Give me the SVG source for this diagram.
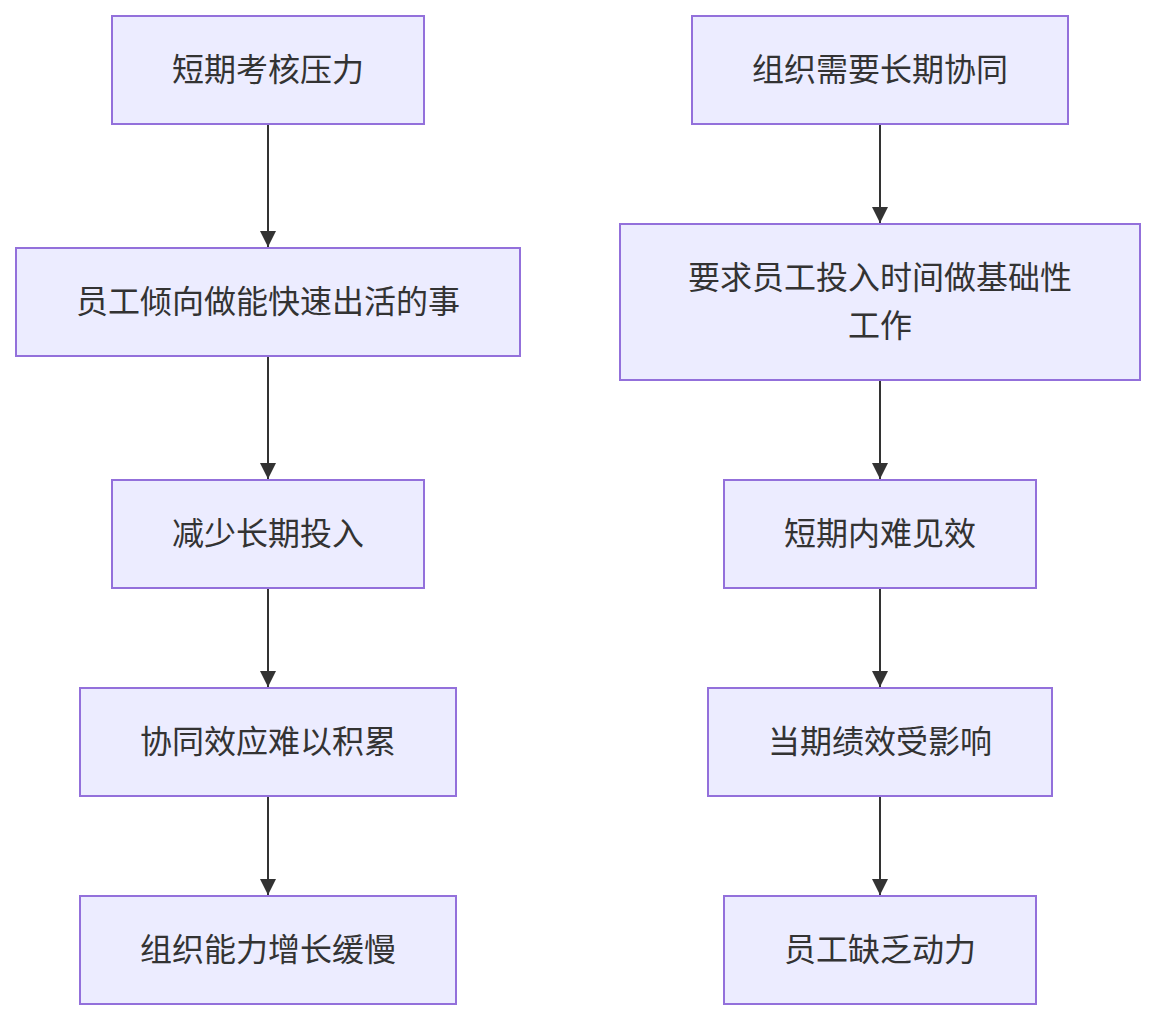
<svg xmlns="http://www.w3.org/2000/svg" width="1156" height="1020" viewBox="0 0 1156 1020">
<style>
.node rect{fill:#ECECFF;stroke:#9370DB;stroke-width:2}
.node text{font-family:"Liberation Sans","Noto Sans CJK SC",sans-serif;font-size:32px;fill:#333333;text-anchor:middle;dominant-baseline:central}
.edge{stroke:#333333;stroke-width:2;fill:none}
</style>
<defs>
<marker id="ah" viewBox="0 0 16 16" refX="16" refY="8" markerWidth="16" markerHeight="16" markerUnits="userSpaceOnUse" orient="auto">
<path d="M0,0 L16,8 L0,16 z" fill="#333333"/>
</marker>
</defs>
<rect width="1156" height="1020" fill="#ffffff"/>
<g id="edges">
<path class="edge" d="M268,125 V247" marker-end="url(#ah)"/>
<path class="edge" d="M268,357 V479" marker-end="url(#ah)"/>
<path class="edge" d="M268,589 V687" marker-end="url(#ah)"/>
<path class="edge" d="M268,797 V895" marker-end="url(#ah)"/>
<path class="edge" d="M880,125 V223" marker-end="url(#ah)"/>
<path class="edge" d="M880,381 V479" marker-end="url(#ah)"/>
<path class="edge" d="M880,589 V687" marker-end="url(#ah)"/>
<path class="edge" d="M880,797 V895" marker-end="url(#ah)"/>
</g>
<g id="L1" class="node"><rect x="112" y="16" width="312" height="108"/><text x="268" y="70">短期考核压力</text></g>
<g id="L2" class="node"><rect x="16" y="248" width="504" height="108"/><text x="268" y="302">员工倾向做能快速出活的事</text></g>
<g id="L3" class="node"><rect x="112" y="480" width="312" height="108"/><text x="268" y="534">减少长期投入</text></g>
<g id="L4" class="node"><rect x="80" y="688" width="376" height="108"/><text x="268" y="742">协同效应难以积累</text></g>
<g id="L5" class="node"><rect x="80" y="896" width="376" height="108"/><text x="268" y="950">组织能力增长缓慢</text></g>
<g id="R1" class="node"><rect x="692" y="16" width="376" height="108"/><text x="880" y="70">组织需要长期协同</text></g>
<g id="R2" class="node"><rect x="620" y="224" width="520" height="156"/><text x="880" y="278">要求员工投入时间做基础性</text><text x="880" y="326">工作</text></g>
<g id="R3" class="node"><rect x="724" y="480" width="312" height="108"/><text x="880" y="534">短期内难见效</text></g>
<g id="R4" class="node"><rect x="708" y="688" width="344" height="108"/><text x="880" y="742">当期绩效受影响</text></g>
<g id="R5" class="node"><rect x="724" y="896" width="312" height="108"/><text x="880" y="950">员工缺乏动力</text></g>
</svg>
